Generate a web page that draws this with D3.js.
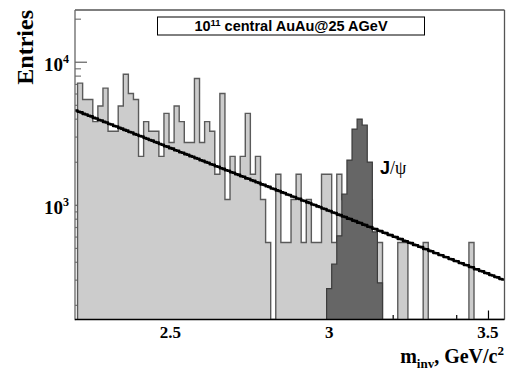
<!DOCTYPE html>
<html>
<head>
<meta charset="utf-8">
<script src="https://cdn.jsdelivr.net/npm/d3@7"></script>
<style>
  html, body { margin: 0; padding: 0; background: #fff; }
  svg { display: block; }
</style>
</head>
<body>
<svg id="chart" width="507" height="372"></svg>
<script>
// ---------------- data ----------------
// total invariant-mass spectrum (light grey), bins of 0.016 GeV starting at 2.208
const totalStart = 2.208;
const totalBinWidth = 0.016;
const totalEntries = [
  7085, 5450, 5450, 3815, 4905, 6540, 3270, 3270, 4905, 8175,
  5995, 5450, 2180, 3815, 3270, 3270, 2180, 4360, 2725, 4905,
  3815, 2725, 2725, 7630, 2725, 3815, 3270, 1635, 5995, 1090,
  2180, 1635, 2180, 4360, 1635, 2180, 1090, 545, 0, 1635,
  545, 545, 1090, 1635, 545, 1090, 545, 545, 1635, 1635,
  545, 1635, 1090, 1090, 1090, 545, 1635, 1090, 545, 545,
  0, 0, 0, 545, 545, 0, 0, 0, 545, 0,
  0, 0, 0, 0, 0, 0, 0, 545, 0, 0,
  0, 0, 0, 0
];

// J/psi signal (dark grey), bins of 0.016 GeV starting at 2.992
const jpsiStart = 2.992;
const jpsiBinWidth = 0.016;
const jpsiEntries = [260, 385, 607, 1188, 2054, 3383, 3973, 3606, 1989, 647, 285];

// background (black line), bins of 0.008 GeV starting at 2.2
const bgStart = 2.2;
const bgBinWidth = 0.008;
const bgEntries = [
  4560, 4470, 4430, 4320, 4280, 4190, 4150, 4050, 4010, 3920,
  3890, 3800, 3760, 3670, 3640, 3560, 3530, 3450, 3410, 3340,
  3300, 3230, 3200, 3120, 3090, 3030, 3000, 2930, 2900, 2840,
  2810, 2750, 2720, 2660, 2630, 2570, 2550, 2490, 2470, 2410,
  2390, 2330, 2310, 2260, 2240, 2190, 2170, 2120, 2100, 2050,
  2030, 1990, 1970, 1920, 1905, 1860, 1845, 1800, 1785, 1745,
  1730, 1690, 1675, 1635, 1620, 1585, 1570, 1530, 1520, 1485,
  1470, 1440, 1425, 1390, 1380, 1350, 1335, 1300, 1290, 1262,
  1250, 1222, 1210, 1182, 1172, 1145, 1135, 1108, 1100, 1072,
  1065, 1040, 1030, 1005, 997, 975, 965, 942, 935, 912,
  905, 884, 876, 855, 848, 828, 822, 801, 796, 776,
  770, 751, 746, 727, 722, 703, 699, 680, 677, 659,
  655, 638, 634, 617, 614, 598, 595, 578, 576, 560,
  557, 543, 540, 525, 522, 509, 506, 491, 489, 477,
  474, 461, 459, 446, 444, 432, 430, 418, 416, 405,
  403, 392, 390, 380, 378, 368, 366, 355, 354, 345,
  343, 334, 332, 323, 321, 313, 311, 303, 301
];

// axes
const xDomain = [2.2, 3.552];
const yDomain = [158, 23000];
const xMajorTicks = [2.5, 3.0, 3.5];
const xTickLabels = ["2.5", "3", "3.5"];
const xMinorTicks = [2.3, 2.4, 2.6, 2.7, 2.8, 2.9, 3.1, 3.2, 3.3, 3.4];
const yMajorTicks = [1000, 10000];
const yTickBase = ["10", "10"];
const yTickExp = ["3", "4"];
const yMinorTicks = [200, 300, 400, 500, 600, 700, 800, 900,
                     2000, 3000, 4000, 5000, 6000, 7000, 8000, 9000, 20000];

const titleBase = "10";
const titleExp = "11";
const titleRest = " central AuAu@25 AGeV";

// ---------------- layout ----------------
const svg = d3.select("#chart");
const plot = { left: 75, right: 504.5, top: 10, bottom: 319.5 };

const x = d3.scaleLinear().domain(xDomain).range([plot.left, plot.right]);
const y = d3.scaleLog().domain(yDomain).range([plot.bottom, plot.top]).clamp(true);
const yPos = v => (v == null || v <= 0) ? plot.bottom : y(v);

svg.append("rect").attr("width", 507).attr("height", 372).attr("fill", "#fff");

// ---- ticks (drawn beneath the histograms) ----
const axG = svg.append("g");
function cleanAxis(g) { g.select(".domain").remove(); g.selectAll("text").remove(); }

axG.append("g").attr("transform", `translate(${plot.left},0)`)
  .call(d3.axisLeft(y).tickValues(yMajorTicks).tickSize(-12).tickFormat(""))
  .call(cleanAxis)
  .selectAll("line").attr("stroke", "#777").attr("stroke-width", 1.4);
axG.append("g").attr("transform", `translate(${plot.left},0)`)
  .call(d3.axisLeft(y).tickValues(yMinorTicks).tickSize(-6).tickFormat(""))
  .call(cleanAxis)
  .selectAll("line").attr("stroke", "#777").attr("stroke-width", 1.2);

axG.append("g").attr("transform", `translate(0,${plot.bottom})`)
  .call(d3.axisBottom(x).tickValues(xMajorTicks).tickSize(-9).tickFormat(""))
  .call(cleanAxis)
  .selectAll("line").attr("stroke", "#000").attr("stroke-width", 1.2);
axG.append("g").attr("transform", `translate(0,${plot.bottom})`)
  .call(d3.axisBottom(x).tickValues(xMinorTicks).tickSize(-4.5).tickFormat(""))
  .call(cleanAxis)
  .selectAll("line").attr("stroke", "#000").attr("stroke-width", 1.2);

// ---- histogram helpers ----
function histPoints(start, width, values) {
  const pts = [[start, null]];
  values.forEach((v, i) => pts.push([start + i * width, v]));
  const end = start + values.length * width;
  pts.push([end, values[values.length - 1]]);
  pts.push([end, null]);
  return pts;
}
const stepLine = d3.line()
  .x(d => x(d[0]))
  .y(d => yPos(d[1]))
  .curve(d3.curveStepAfter);

const clip = svg.append("clipPath").attr("id", "plotclip")
  .append("rect").attr("x", plot.left).attr("y", plot.top)
  .attr("width", plot.right - plot.left).attr("height", plot.bottom - plot.top);

const histG = svg.append("g").attr("clip-path", "url(#plotclip)");

// total spectrum
histG.append("path")
  .attr("d", stepLine(histPoints(totalStart, totalBinWidth, totalEntries)))
  .attr("fill", "#cccccc")
  .attr("stroke", "#5a5a5a")
  .attr("stroke-width", 1.4)
  .attr("stroke-linejoin", "miter");

// J/psi signal
histG.append("path")
  .attr("d", stepLine(histPoints(jpsiStart, jpsiBinWidth, jpsiEntries)))
  .attr("fill", "#666666")
  .attr("stroke", "#3c3c3c")
  .attr("stroke-width", 1.2);

// background line
const bgPts = bgEntries.map((v, i) => [bgStart + i * bgBinWidth, v]);
bgPts.push([bgStart + bgEntries.length * bgBinWidth, bgEntries[bgEntries.length - 1]]);
histG.append("path")
  .attr("d", stepLine(bgPts))
  .attr("fill", "none")
  .attr("stroke", "#000")
  .attr("stroke-width", 2.6)
  .attr("stroke-linejoin", "round");

// ---- frame ----
svg.append("line").attr("x1", plot.left).attr("x2", plot.right).attr("y1", plot.top).attr("y2", plot.top)
  .attr("stroke", "#555").attr("stroke-width", 1.3);
svg.append("line").attr("x1", plot.right).attr("x2", plot.right).attr("y1", plot.top).attr("y2", plot.bottom)
  .attr("stroke", "#555").attr("stroke-width", 1.3);
svg.append("line").attr("x1", plot.left).attr("x2", plot.left).attr("y1", plot.top).attr("y2", plot.bottom + 0.7)
  .attr("stroke", "#666").attr("stroke-width", 1.3);
svg.append("line").attr("x1", plot.left).attr("x2", plot.right).attr("y1", plot.bottom).attr("y2", plot.bottom)
  .attr("stroke", "#000").attr("stroke-width", 1.6);

// ---- tick labels ----
const serif = "'Liberation Serif', 'Times New Roman', serif";
const sans = "'Liberation Sans', Arial, Helvetica, sans-serif";

xMajorTicks.forEach((t, i) => {
  svg.append("text")
    .attr("x", x(t)).attr("y", 338)
    .attr("text-anchor", "middle")
    .attr("font-family", serif).attr("font-weight", "bold").attr("font-size", 17)
    .text(xTickLabels[i]);
});

yMajorTicks.forEach((t, i) => {
  const tx = svg.append("text")
    .attr("x", 69).attr("y", y(t) + 8.8)
    .attr("text-anchor", "end")
    .attr("font-family", serif).attr("font-weight", "bold").attr("font-size", 19);
  tx.append("tspan").text(yTickBase[i]);
  tx.append("tspan").attr("dy", -8).attr("font-size", 12).text(yTickExp[i]);
});

// ---- axis titles ----
svg.append("text")
  .attr("transform", "translate(33,10) rotate(-90)")
  .attr("text-anchor", "end")
  .attr("font-family", serif).attr("font-weight", "bold").attr("font-size", 24)
  .text("Entries");

const xt = svg.append("text")
  .attr("x", 504).attr("y", 363)
  .attr("text-anchor", "end")
  .attr("font-family", serif).attr("font-weight", "bold").attr("font-size", 20);
xt.append("tspan").text("m");
xt.append("tspan").attr("dy", 5).attr("font-size", 13).text("inv");
xt.append("tspan").attr("dy", -5).text(", GeV/c");
xt.append("tspan").attr("dy", -8).attr("font-size", 13).text("2");

// ---- title box ----
svg.append("rect")
  .attr("x", 157.5).attr("y", 17).attr("width", 267).attr("height", 18)
  .attr("fill", "#fff").attr("stroke", "#000").attr("stroke-width", 1);
const tt = svg.append("text")
  .attr("x", 291).attr("y", 30.5)
  .attr("text-anchor", "middle")
  .attr("font-family", sans).attr("font-weight", "bold").attr("font-size", 14.5);
tt.append("tspan").text(titleBase);
tt.append("tspan").attr("dy", -5).attr("font-size", 9.5).text(titleExp);
tt.append("tspan").attr("dy", 5).text(titleRest);

// ---- J/psi label ----
const jl = svg.append("text")
  .attr("x", 380).attr("y", 174)
  .attr("font-size", 18);
jl.append("tspan").attr("font-family", sans).attr("font-weight", "bold").text("J");
jl.append("tspan").attr("font-family", serif).attr("font-weight", "normal").text("/ψ");
</script>
</body>
</html>
